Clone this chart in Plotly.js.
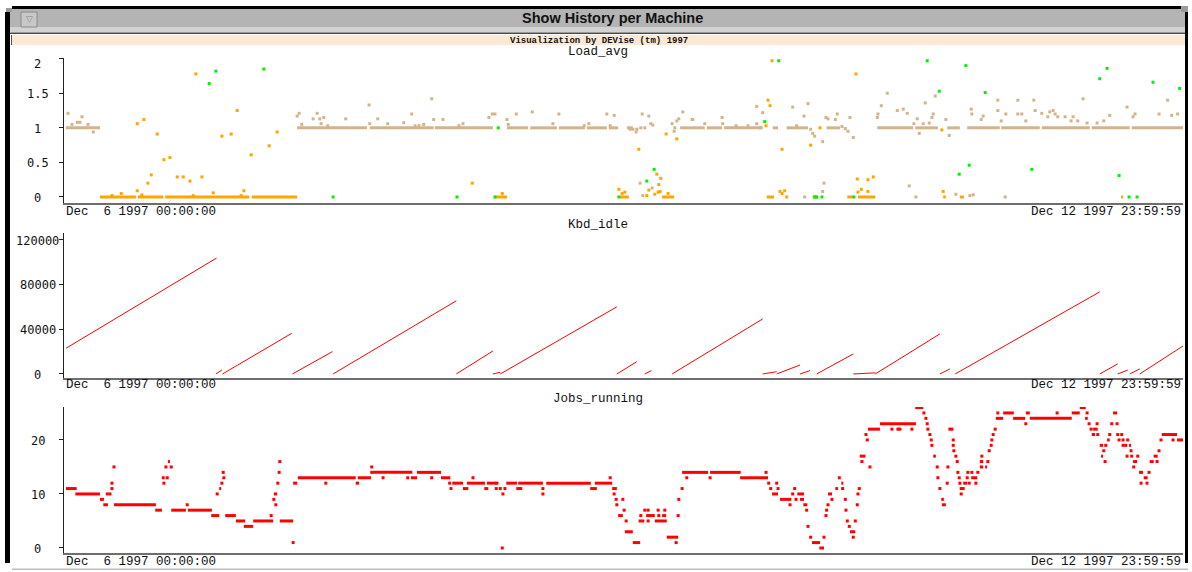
<!DOCTYPE html>
<html><head><meta charset="utf-8">
<script src="https://cdn.plot.ly/plotly-3.0.1.min.js"></script>
<style>html,body{margin:0;padding:0;background:#fff;}#chart{width:1192px;height:572px;}</style>
</head><body><div id="chart"></div>
<script>
// ---------- DATA (x in hours since Dec 6 1997 00:00:00) ----------
const startLabel = "Dec \u00a06 1997 00:00:00";
const endLabel = "Dec 12 1997 23:59:59";
const panelTitles = ["Load_avg", "Kbd_idle", "Jobs_running"];

const loadTickVals = [0, 0.5, 1, 1.5, 2];
const loadTickText = ["0", "0.5", "1", "1.5", "2"];
const kbdTickVals = [0, 40000, 80000, 120000];
const kbdTickText = ["0", "40000", "80000", "120000"];
const jobsTickVals = [0, 10, 20];
const jobsTickText = ["0", "10", "20"];

// Load_avg: tan series (runs at a constant value + individual samples)
const loadTanRunStart = [0.3,35.0,45.9,55.7,66.5,70.0,74.3,78.5,81.8,84.5,92.5,96.5,99.1,106.4,108.5,114.5,122.1,127.8,132.6,135.6,140.7,146.8,154.3,160.3];
const loadTanRunEnd   = [5.4,45.5,55.5,64.4,69.7,74.0,78.2,81.5,83.2,85.4,96.2,98.8,104.9,107.2,111.7,116.5,127.5,131.2,134.5,140.5,146.5,154.0,160.0,168.0];
const loadTanRunValue = [1,1,1,1,1,1,1,1,1,1,1,1,1,1,1,1,1,1,1,1,1,1,1,1];
const loadTanHours = [0.6,1.2,2.0,2.4,2.7,3.6,4.4,35.0,35.3,35.7,37.4,38.0,38.4,38.6,39.0,39.6,42.3,45.8,45.9,47.1,48.6,
  51.0,52.2,52.7,53.3,54.0,55.2,55.5,56.9,59.3,59.9,63.8,64.3,64.7,66.5,66.7,67.9,70.3,73.4,74.3,78.1,78.8,81.5,82.0,82.6,
  85.0,85.4,85.9,86.0,86.6,86.8,87.2,87.8,88.1,88.4,86.5,86.9,88.3,91.3,91.6,91.7,92.0,92.3,92.9,94.3,94.4,96.2,98.8,98.9,
  100.9,102.7,104.0,104.0,104.5,104.9,109.4,110.0,111.1,111.7,112.1,112.4,112.7,113.9,114.1,113.9,114.4,114.7,115.8,116.1,
  116.8,117.3,117.7,118.0,118.5,111.2,122.1,122.2,122.7,123.6,125.1,126.0,126.6,126.9,127.6,127.9,128.1,128.4,129.0,129.3,
  129.9,130.3,130.5,130.8,132.4,132.9,133.9,136.0,136.5,136.2,136.3,137.7,138.0,140.2,140.2,140.7,141.3,141.4,143.2,143.2,
  143.8,144.4,145.6,145.8,146.8,147.7,148.0,148.5,148.8,149.2,150.3,151.2,151.5,152.2,153.0,153.6,155.1,156.1,157.0,159.6,
  160.5,160.8,164.4,165.7,166.3,167.2];
const loadTanValues = [1.21,1.05,1.08,1.08,1.16,1.05,0.94,1.17,1.21,1.05,1.13,1.21,1.13,1.06,1.15,1.03,1.13,1.33,1.06,1.13,1.06,
  1.075,1.2,1.03,1.03,1.05,1.42,1.12,1.12,1.03,1.06,1.15,1.2,1.2,1.12,1.05,1.2,1.23,1.06,1.2,1.03,1.06,1.2,1.03,1.18,
  0.98,0.98,0.94,0.98,1.0,1.2,1.0,1.17,1.06,1.04,0.2,0.02,0.13,1.06,0.95,1.0,1.1,1.13,1.23,1.12,1.12,1.06,1.15,1.06,
  1.03,1.03,1.06,1.31,1.0,1.22,1.3,1.03,1.17,1.35,0.98,0.92,0.88,0.80,0.2,0.08,1.15,1.13,1.12,1.2,
  1.02,0.99,0.95,1.15,0.86,0,1.15,1.2,1.32,1.5,1.25,1.27,1.21,0.16,1.06,0,1.13,0.92,1.06,1.36,
  1.07,1.15,1.2,1.46,1.12,0.89,0.04,0.02,0.03,1.27,1.2,1.12,1.17,1.4,1.25,1.1,0,1.2,1.4,1.2,
  1.2,1.1,1.4,1.25,1.21,1.16,1.23,1.25,1.2,1.16,1.16,1.1,1.16,1.1,1.42,1.07,1.07,1.1,1.18,1.3,
  1.16,1.2,1.2,1.4,1.18,1.2];

// Load_avg: orange series
const loadOrangeRunStart = [5.4,11.1,15.2,28.2,64.7,83.5,89.8,105.5,112.4,117.6,119.2,132.0,134.5,158.7];
const loadOrangeRunEnd   = [10.8,14.9,27.8,35.0,66.5,84.8,91.6,106.6,113.2,118.5,121.8,132.4,135.1,159.0];
const loadOrangeRunValue = [0,0,0,0,0,0,0,0,0,0,0,0,0,0];
const loadOrangeHours = [11.0,11.0,11.7,12.0,12.6,13.1,14.0,15.0,15.9,17.0,17.9,18.9,19.8,20.7,22.4,23.7,25.1,26.0,27.0,28.1,30.8,32.0,7.2,8.6,19.4,26.6,
  61.3,65.8,83.3,83.8,84.2,86.3,87.5,87.8,88.7,89.0,89.3,89.6,89.2,89.5,90.4,92.0,90.7,
  105.7,106.0,105.4,106.3,107.8,107.5,107.8,108.2,108.5,112.1,113.5,118.9,119.1,119.2,119.7,120.7,120.7,121.5,131.8,132.0];
const loadOrangeValues = [0.09,1.06,0.03,1.12,0.2,0.32,0.91,0.54,0.57,0.29,0.29,0.23,1.78,0.29,0.06,0.88,0.91,1.25,0.09,0.61,0.74,0.94,0.02,0.05,0.02,0.02,
  0.2,0.05,0.11,0.05,0.07,0.69,0.02,0.1,0.04,0.33,0.18,0.27,0.07,0.08,0.91,0.84,0.05,
  1.4,1.32,1.03,1.97,0.69,0.08,0.05,0.09,0.0,0.75,1.0,1.78,0.26,0.07,0.11,0.25,0.08,0.29,0.97,0.08];

// Load_avg: green series
const loadGreenHours = [21.8,22.8,30.0,40.4,59.0,64.7,65.2,83.3,87.5,88.6,105.2,107.3,112.7,113.0,113.8,118.6,129.6,131.4,134.4,135.4,135.9,138.3,145.3,155.5,156.6,158.4,159.9,161.1,163.5,167.5];
const loadGreenValues = [1.64,1.82,1.85,0,0,0,1.0,0,0.23,0.4,1.09,1.97,0,0,0,0,1.97,1.53,0.33,1.9,0.46,1.51,0.4,1.71,1.86,0.31,0,0,1.66,1.57];

// Kbd_idle: segments (seconds idle), start and end of each rising run
const kbdStartHour  = [0.3,22.8,23.8,34.3,40.4,58.9,64.4,65.5,83.0,87.2,91.3,104.9,107.0,110.5,113.0,118.5,121.8,131.5,133.8,155.5,158.2,160.0,161.5];
const kbdStartValue = [23000,0,0,0,0,0,0,0,0,0,0,0,0,0,0,0,0,0,0,0,0,0,0];
const kbdEndHour    = [22.9,23.7,34.2,40.3,58.9,64.4,65.5,83.0,86.0,88.2,104.9,107.0,110.5,112.0,118.5,121.8,131.5,133.0,155.5,158.2,159.7,161.5,168.0];
const kbdEndValue   = [103600,3500,36400,20000,65400,20600,1500,60000,11000,3000,49200,2000,8000,3000,17900,1000,35800,4500,73400,9000,3500,4500,25000];

// Jobs_running: runs at a constant value
const jobsRunStart = [0.3,1.7,5.4,5.9,7.5,13.7,15.6,16.1,18.6,22.1,23.3,24.2,25.8,27.0,28.4,31.5,32.4,34.4,35.1,43.8,44.1,46.4,52.1,53.0,56.6,58.3,59.9,60.5,63.1,63.5,
  66.4,67.9,68.2,72.4,79.0,79.7,82.3,83.2,84.2,85.4,87.4,88.7,89.8,90.5,92.8,97.0,101.5,106.3,107.5,110.1,110.5,111.0,112.3,113.4,114.7,115.8,116.7,118.0,
  120.7,122.5,127.8,130.5,131.7,131.8,135.0,136.2,137.5,137.5,138.3,139.9,141.0,142.5,144.4,145.0,151.3,152.5,153.3,154.3,154.5,155.5,155.7,156.6,157.5,
  159.9,160.5,161.4,162.1,163.0,163.6,164.8,167.1];
const jobsRunEnd = [1.9,5.4,6.0,6.6,13.8,14.7,15.9,18.3,22.2,23.3,23.6,25.8,27.2,28.4,31.4,32.0,34.4,35.0,43.8,44.3,46.1,52.3,53.0,56.6,58.0,59.9,60.7,63.2,63.7,64.9,
  68.0,68.8,71.9,79.1,80.0,82.3,83.0,83.9,85.4,86.5,88.7,90.5,90.4,92.2,96.7,101.6,105.7,107.2,109.2,111.1,111.1,111.6,113.5,114.1,115.3,116.2,117.0,118.8,
  122.5,127.9,129.0,130.9,132.1,132.4,135.6,137.1,138.0,138.0,138.6,141.0,142.6,144.3,145.0,151.3,152.5,153.4,153.7,154.8,155.2,156.0,156.0,157.0,158.1,
  160.2,161.1,162.0,162.7,163.6,164.2,167.1,168.0];
const jobsRunValue = [11,10,9,8,8,7,16,7,7,6,11,6,5,4,5,10,5,12,13,12,13,14,13,14,13,12,11,12,11,12,
  12,11,12,12,11,12,11,6,3,1,6,5,6,2,14,14,13,10,9,10,9,8,1,0,10,11,12,3,
  22,23,26,17,9,8,12,13,16,15,15,24,25,24,25,24,25,26,24,21,22,19,17,20,25,
  19,16,14,13,16,17,21,20];
// Jobs_running: individual samples
const jobsHours = [6.5,6.9,7.2,7.2,7.5,14.9,15.0,15.3,15.5,16.1,18.5,23.0,23.7,23.9,24.0,31.1,31.5,31.8,32.1,32.3,32.4,34.4,39.3,46.2,46.2,47.9,
  51.6,55.2,57.9,58.1,61.4,64.9,65.0,65.5,65.8,65.9,66.2,71.9,71.9,82.0,82.6,82.9,83.0,83.9,84.1,84.4,86.6,86.5,86.9,87.2,87.7,87.7,
  89.2,89.3,90.2,91.9,92.2,92.3,92.8,93.5,97.0,105.4,105.8,106.1,107.0,107.2,109.0,109.4,109.7,109.9,111.5,111.7,112.1,114.1,114.4,114.5,
  114.7,115.3,116.4,116.9,117.3,117.4,117.6,117.9,118.5,118.8,119.1,119.2,119.4,119.7,119.8,120.1,120.4,120.6,121.0,124.3,125.2,125.5,
  127.3,129.1,129.4,129.6,129.7,130.0,130.2,130.3,131.1,131.2,131.5,132.6,132.7,133.0,133.3,133.5,133.5,133.6,133.9,134.1,134.2,134.4,
  134.5,134.7,134.7,135.0,135.6,135.7,135.9,136.3,136.9,137.2,137.8,138.7,138.9,139.2,139.3,139.5,139.8,140.2,144.4,149.1,153.6,153.9,
  154.2,155.1,155.2,156.1,156.3,156.4,157.0,157.3,158.1,158.2,158.4,158.8,159.0,159.0,159.4,159.6,159.7,160.2,160.3,160.6,161.2,161.7,
  162.6,162.9,164.1,164.4,164.7,166.5];
const jobsValues = [10,10,11,12,15,13,12,15,13,15,8,10,12,14,13,6,9,8,12,14,16,1,12,14,15,13,
  13,13,12,11,13,11,12,11,0,10,11,11,10,13,10,9,8,9,7,5,6,5,5,7,7,5,
  7,6,7,1,6,9,11,13,13,14,12,11,12,11,8,10,11,9,7,4,2,2,6,7,
  8,9,13,11,9,7,5,4,2,5,8,10,11,17,16,17,21,20,15,22,22,22,
  22,25,24,23,22,21,20,19,15,13,11,12,15,22,22,20,19,18,17,16,14,13,
  12,11,10,11,13,14,12,14,12,14,17,16,18,19,20,21,22,25,23,25,25,23,
  22,23,21,18,16,19,21,23,23,21,20,21,20,19,19,17,20,18,17,15,17,12,
  12,14,16,18,20,20];

// ---------- BUILD TRACES ----------
function runsXY(s, e, v) {
  const x = [], y = [];
  for (let i = 0; i < s.length; i++) { x.push(s[i], e[i], null); y.push(v[i], v[i], null); }
  return {x, y};
}
function segXY(s, sv, e, ev) {
  const x = [], y = [];
  for (let i = 0; i < s.length; i++) { x.push(s[i], e[i], null); y.push(sv[i], ev[i], null); }
  return {x, y};
}
const TAN = "#d2b48c", ORANGE = "#ffa500", GREEN = "#00f000", RED = "#ff0000";
const tanRuns = runsXY(loadTanRunStart, loadTanRunEnd, loadTanRunValue);
const orRuns = runsXY(loadOrangeRunStart, loadOrangeRunEnd, loadOrangeRunValue);
const kbdSeg = segXY(kbdStartHour, kbdStartValue, kbdEndHour, kbdEndValue);
const jobRuns = runsXY(jobsRunStart, jobsRunEnd, jobsRunValue);

const mk = (c) => ({symbol: "square", size: 3, color: c, line: {width: 0}});
const data = [
  {x: tanRuns.x, y: tanRuns.y, mode: "lines", line: {color: TAN, width: 3}, xaxis: "x", yaxis: "y", connectgaps: false},
  {x: loadTanHours, y: loadTanValues, mode: "markers", marker: mk(TAN), xaxis: "x", yaxis: "y"},
  {x: orRuns.x, y: orRuns.y, mode: "lines", line: {color: ORANGE, width: 3}, xaxis: "x", yaxis: "y"},
  {x: loadOrangeHours, y: loadOrangeValues, mode: "markers", marker: mk(ORANGE), xaxis: "x", yaxis: "y"},
  {x: loadGreenHours, y: loadGreenValues, mode: "markers", marker: mk(GREEN), xaxis: "x", yaxis: "y"},
  {x: kbdSeg.x, y: kbdSeg.y, mode: "lines", line: {color: RED, width: 1}, xaxis: "x2", yaxis: "y2"},
  {x: jobRuns.x, y: jobRuns.y, mode: "lines", line: {color: RED, width: 3}, xaxis: "x3", yaxis: "y3"},
  {x: jobsHours, y: jobsValues, mode: "markers", marker: mk(RED), xaxis: "x3", yaxis: "y3"}
];

// ---------- LAYOUT ----------
const W = 1192, H = 572;
const px = (v) => v / W, py = (v) => 1 - v / H;
const xdom = [px(64), px(1183)];
function xax(anchor) {
  return {domain: xdom, range: [0, 168], anchor: anchor, showgrid: false, zeroline: false, showticklabels: false,
    ticks: "", showline: true, linecolor: "#6e6e6e", linewidth: 2, fixedrange: true};
}
function yax(anchor, dom, range, tv) {
  return {domain: dom, range: range, anchor: anchor, showgrid: false, zeroline: false, showticklabels: false,
    tickmode: "array", tickvals: tv, ticks: "outside", ticklen: 4, tickcolor: "#222", tickwidth: 1,
    showline: true, linecolor: "#222", linewidth: 1, fixedrange: true};
}
const monoFont = {family: "Liberation Mono, DejaVu Sans Mono, monospace", size: 12.5, color: "#111"};
const tickFont = {family: "DejaVu Sans Mono, monospace", size: 12, color: "#111"};
const annotations = [];
function tickLabels(yref, vals, texts, shiftTop) {
  vals.forEach((v, i) => {
    annotations.push({xref: "paper", yref: yref, x: px(37.5), y: v, text: texts[i], showarrow: false,
      xanchor: "center", yanchor: "middle", font: tickFont, yshift: (shiftTop && i === vals.length - 1) ? -5 : -1});
  });
}
tickLabels("y", loadTickVals, loadTickText, true);
tickLabels("y2", kbdTickVals, kbdTickText, false);
tickLabels("y3", jobsTickVals, jobsTickText, false);
const titleY = [52, 225, 399];
const dateY = [211.5, 385, 561.5];
panelTitles.forEach((t, i) => {
  annotations.push({xref: "paper", yref: "paper", x: px(598), y: py(titleY[i]), text: t, showarrow: false,
    xanchor: "center", yanchor: "middle", font: monoFont});
  annotations.push({xref: "paper", yref: "paper", x: px(64), y: py(dateY[i]), text: startLabel, showarrow: false,
    xanchor: "left", yanchor: "middle", font: monoFont});
  annotations.push({xref: "paper", yref: "paper", x: px(1183), y: py(dateY[i]), text: endLabel, showarrow: false,
    xanchor: "right", yanchor: "middle", font: monoFont});
});
// window chrome texts
annotations.push({xref: "paper", yref: "paper", x: px(612), y: py(18), text: "<b>Show History per Machine</b>", showarrow: false,
  xanchor: "center", yanchor: "middle", font: {family: "Liberation Sans, Arial, sans-serif", size: 14.5, color: "#111"}});
annotations.push({xref: "paper", yref: "paper", x: px(598.5), y: py(40.5), text: "<b>Visualization by DEVise (tm) 1997</b>", showarrow: false,
  xanchor: "center", yanchor: "middle", font: {family: "Liberation Mono, monospace", size: 9, color: "#111"}});
annotations.push({xref: "paper", yref: "paper", x: px(29.5), y: py(19.5), text: "\u25bd", showarrow: false,
  xanchor: "center", yanchor: "middle", font: {family: "DejaVu Sans", size: 9, color: "#888"}});

function rect(x0, y0, x1, y1, color, lineColor) {
  return {type: "rect", xref: "paper", yref: "paper", x0: px(x0), x1: px(x1), y0: py(y1), y1: py(y0),
    fillcolor: color, line: {width: lineColor ? 1 : 0, color: lineColor || color}, layer: "below"};
}
const shapes = [
  rect(10, 9, 1185, 27, "#b4b4b4"),
  rect(10, 27, 1185, 32.5, "#d2d2d2"),
  rect(10, 32.5, 1185, 34, "#4a4a4a"),
  rect(11, 35, 1185, 45, "#fbe9d6"),
  rect(11, 35, 12, 45, "#555555"),
  rect(12, 6, 1181, 9, "#000000"),
  rect(5, 12, 10, 563, "#000000"),
  rect(1185, 12, 1188, 563, "#000000"),
  rect(6, 8, 12, 12, "#9a9a9a"),
  rect(1181, 6, 1188, 12, "#9a9a9a"),
  rect(12, 568.5, 1188, 570, "#bdbdbd"),
  rect(21, 12, 37, 27, "#c8c8c8", "#8a8a8a")
];

const layout = {
  width: W, height: H, margin: {l: 0, r: 0, t: 0, b: 0}, paper_bgcolor: "#ffffff", plot_bgcolor: "#ffffff",
  showlegend: false, hovermode: false,
  xaxis: xax("y"), yaxis: yax("x", [py(203), py(58)], [-0.087, 2.01], loadTickVals),
  xaxis2: xax("y2"), yaxis2: yax("x2", [py(378), py(233)], [-3600, 126000], kbdTickVals),
  xaxis3: xax("y3"), yaxis3: yax("x3", [py(553), py(407)], [-0.93, 26.1], jobsTickVals),
  annotations: annotations, shapes: shapes
};
Plotly.newPlot("chart", data, layout, {staticPlot: true, displayModeBar: false});
</script></body></html>
